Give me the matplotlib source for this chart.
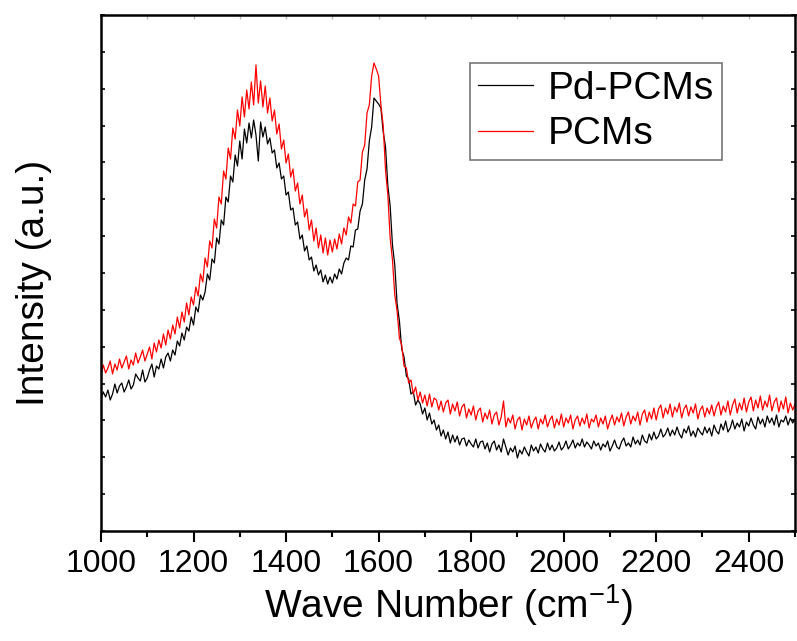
import numpy as np
import matplotlib
matplotlib.use('Agg')
import matplotlib.pyplot as plt
from matplotlib.ticker import MultipleLocator, NullFormatter

plt.rcParams['font.family'] = ['Liberation Sans', 'DejaVu Sans']
plt.rcParams['mathtext.fontset'] = 'custom'
plt.rcParams['mathtext.rm'] = 'Liberation Sans'

# wave numbers (cm-1), one reading every 5 cm-1
wave = np.arange(1000, 2501, 5)

# Pd-PCMs intensity (a.u.), 50 cm-1 per row
pd_pcms = [
    132, 139, 134, 141, 131, 137, 147, 138, 145, 148,
    139, 144, 151, 142, 146, 157, 153, 150, 161, 149,
    153, 161, 167, 154, 165, 162, 172, 163, 174, 178,
    170, 181, 176, 190, 185, 198, 191, 204, 200, 214,
    206, 224, 219, 236, 231, 239, 257, 251, 272, 268,
    293, 287, 311, 306, 334, 329, 355, 349, 376, 365,
    390, 372, 402, 388, 408, 393, 411, 396, 370, 409,
    394, 404, 387, 393, 378, 381, 363, 368, 352, 355,
    336, 339, 321, 323, 306, 309, 292, 296, 280, 285,
    271, 274, 260, 266, 256, 261, 249, 256, 247, 254,
    248, 257, 252, 262, 257, 268, 273, 271, 285, 284,
    301, 302, 320, 327, 351, 362, 390, 404, 433, 430,
    427, 423, 399, 384, 345, 325, 286, 266, 227, 210,
    182, 174, 155, 152, 137, 139, 126, 131, 127, 117,
    123, 111, 118, 107, 111, 101, 106, 95, 101, 92,
    99, 88, 96, 89, 95, 86, 92, 93, 85, 91,
    87, 84, 92, 83, 89, 90, 82, 88, 79, 87,
    90, 81, 86, 79, 92, 84, 76, 83, 79, 85,
    73, 81, 77, 84, 79, 75, 86, 80, 84, 78,
    87, 82, 79, 88, 81, 86, 80, 83, 89, 81,
    84, 90, 82, 86, 91, 83, 88, 85, 92, 84,
    89, 86, 82, 90, 85, 88, 81, 87, 84, 90,
    80, 85, 91, 84, 82, 89, 93, 85, 88, 84,
    94, 87, 91, 86, 96, 90, 88, 97, 91, 99,
    92, 95, 102, 94, 97, 103, 95, 101, 96, 104,
    97, 93, 102, 98, 105, 95, 100, 94, 103, 99,
    96, 104, 98, 103, 95, 106, 100, 97, 107, 101,
    110, 99, 103, 111, 102, 108, 104, 112, 100, 109,
    105, 113, 106, 102, 114, 107, 112, 104, 115, 108,
    113, 106, 116, 104, 111, 109, 115, 106, 113, 108,
    112,
]

# PCMs intensity (a.u.)
pcms = [
    156, 166, 158, 163, 170, 157, 167, 161, 172, 163,
    169, 175, 162, 171, 166, 178, 168, 174, 181, 170,
    177, 184, 172, 188, 179, 191, 183, 197, 186, 201,
    192, 206, 197, 214, 203, 219, 209, 228, 216, 234,
    226, 244, 235, 257, 249, 273, 264, 290, 283, 312,
    303, 334, 327, 360, 352, 383, 372, 403, 392, 421,
    405, 434, 414, 441, 422, 449, 426, 466, 428, 450,
    424, 445, 418, 433, 410, 421, 397, 407, 382, 391,
    368, 377, 354, 362, 340, 348, 327, 336, 314, 322,
    301, 311, 290, 303, 283, 296, 278, 293, 276, 291,
    279, 292, 282, 297, 287, 303, 296, 314, 308, 327,
    325, 349, 351, 379, 386, 418, 426, 455, 468, 462,
    455, 426, 405, 361, 336, 293, 271, 236, 220, 193,
    186, 165, 163, 148, 151, 137, 144, 131, 139, 128,
    136, 125, 137, 124, 133, 131, 121, 130, 119, 128,
    131, 117, 127, 120, 129, 115, 124, 127, 113, 122,
    116, 125, 111, 120, 123, 109, 118, 112, 121, 107,
    116, 119, 106, 114, 130, 104, 113, 108, 116, 102,
    111, 114, 101, 112, 106, 115, 103, 110, 114, 102,
    112, 107, 116, 104, 111, 115, 103, 112, 106, 117,
    104, 113, 108, 116, 102, 111, 115, 105, 113, 107,
    117, 103, 112, 109, 116, 104, 113, 107, 115, 102,
    110, 116, 106, 114, 109, 118, 105, 114, 119, 107,
    115, 110, 119, 106, 117, 121, 109, 119, 112, 123,
    111, 122, 126, 113, 123, 117, 127, 114, 124, 119,
    128, 113, 122, 126, 115, 124, 118, 127, 112, 121,
    125, 114, 123, 117, 126, 115, 124, 129, 116, 125,
    119, 130, 116, 126, 132, 118, 128, 121, 133, 119,
    129, 134, 120, 131, 123, 135, 121, 130, 124, 136,
    120, 129, 133, 119, 130, 122, 134, 118, 128, 121,
    127,
]

fig = plt.figure(figsize=(7.97, 6.41), dpi=100)
ax = fig.add_axes([0.1267, 0.1716, 0.8708, 0.805])

ax.plot(wave, pd_pcms, c='black', lw=0.9, label='Pd-PCMs')
ax.plot(wave, pcms, c='red', lw=0.9, label='PCMs')

ax.set_xlim(1000, 2500)
ax.set_ylim(0, 516)
ax.xaxis.set_major_locator(MultipleLocator(200))
ax.xaxis.set_minor_locator(MultipleLocator(100))
ax.yaxis.set_major_locator(MultipleLocator(516 / 14))
ax.yaxis.set_major_formatter(NullFormatter())

for side in ['left', 'right', 'top', 'bottom']:
    ax.spines[side].set_linewidth(1.8)

ax.tick_params(axis='x', which='major', direction='out', length=8, width=1.5,
               labelsize=23, pad=5)
ax.tick_params(axis='x', which='minor', direction='out', length=4.5, width=1.5)
ax.tick_params(axis='y', which='major', direction='in', length=3, width=1.2,
               left=True, right=True)

# faint inner ticks along the top edge
top = ax.secondary_xaxis('top')
top.xaxis.set_major_locator(MultipleLocator(100))
top.tick_params(direction='in', length=3, width=1, colors='#bbbbbb', labeltop=False)
top.spines['top'].set_visible(False)

ax.set_xlabel('Wave Number (cm$^{-1}$)', fontsize=28, labelpad=2)
ax.set_ylabel('Intensity (a.u.)', fontsize=28)
ax.yaxis.set_label_coords(-0.071, 0.48)

leg = ax.legend(loc='upper right', bbox_to_anchor=(0.895, 0.907), fontsize=28,
                frameon=True, fancybox=False, borderaxespad=0, handlelength=1.4,
                handletextpad=0.4, labelspacing=0.25, borderpad=0.2)
leg.get_frame().set_edgecolor('#555555')
leg.get_frame().set_linewidth(1.2)

fig.savefig('out.png', dpi=100)
